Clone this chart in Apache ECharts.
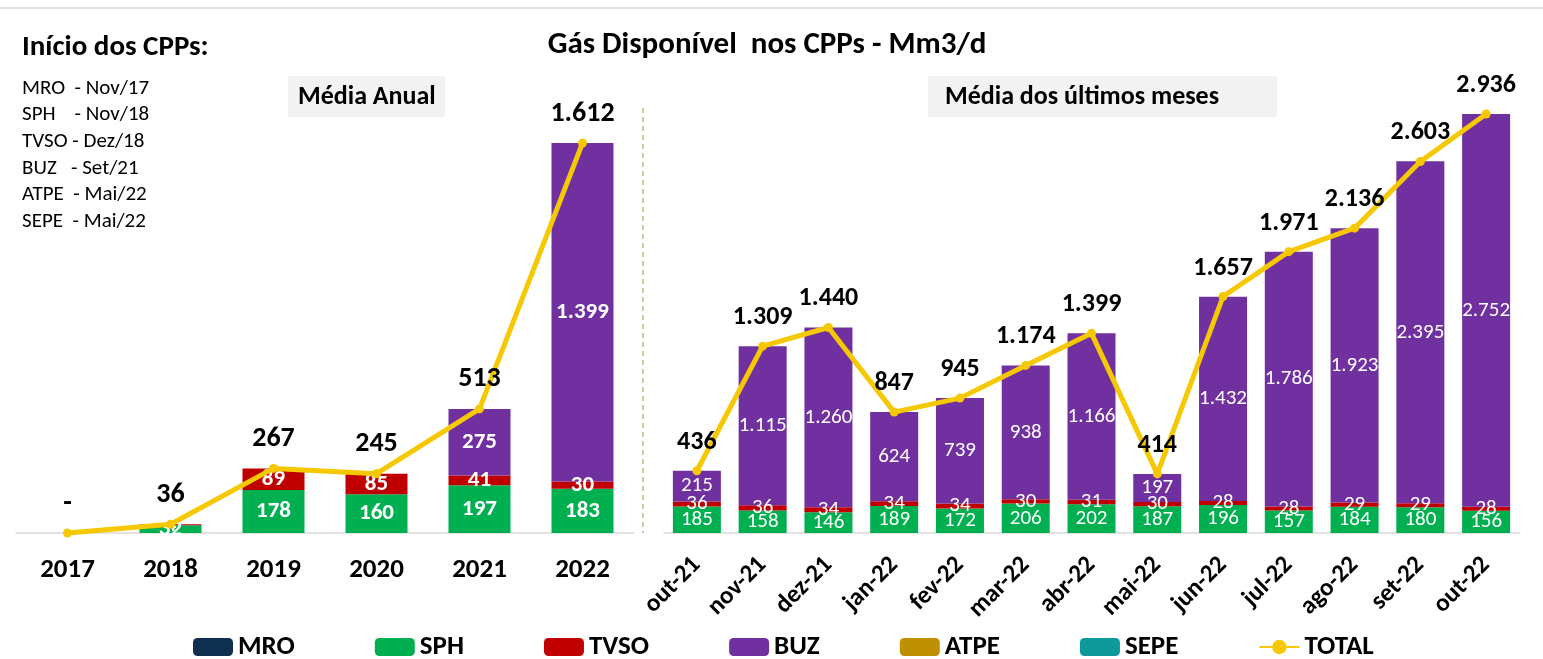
<!DOCTYPE html>
<html>
<head>
<meta charset="utf-8">
<script src="https://cdn.jsdelivr.net/npm/echarts@6/dist/echarts.min.js"></script>
<style>
  html, body { margin: 0; padding: 0; background: #fff; }
  #chart { width: 1543px; height: 659px; }
</style>
</head>
<body>
<div id="chart"></div>
<script>
// --- dados ---
const anos = ['2017', '2018', '2019', '2020', '2021', '2022']
const meses = ['out-21', 'nov-21', 'dez-21', 'jan-22', 'fev-22', 'mar-22', 'abr-22',
  'mai-22', 'jun-22', 'jul-22', 'ago-22', 'set-22', 'out-22']

const mroAnual = [0, 0, 0, 0, 0, 0]
const sphAnual = [0, 32, 178, 160, 197, 183]
const tvsoAnual = [0, 4, 89, 85, 41, 30]
const buzAnual = [0, 0, 0, 0, 275, 1399]
const atpeAnual = [0, 0, 0, 0, 0, 0]
const sepeAnual = [0, 0, 0, 0, 0, 0]
const totalAnual = [0, 36, 267, 245, 513, 1612]

const mroMes = [0, 0, 0, 0, 0, 0, 0, 0, 0, 0, 0, 0, 0]
const sphMes = [185, 158, 146, 189, 172, 206, 202, 187, 196, 157, 184, 180, 156]
const tvsoMes = [36, 36, 34, 34, 34, 30, 31, 30, 28, 28, 29, 29, 28]
const buzMes = [215, 1115, 1260, 624, 739, 938, 1166, 197, 1432, 1786, 1923, 2395, 2752]
const atpeMes = [0, 0, 0, 0, 0, 0, 0, 0, 0, 0, 0, 0, 0]
const sepeMes = [0, 0, 0, 0, 0, 0, 0, 0, 0, 0, 0, 0, 0]
const totalMes = [436, 1309, 1440, 847, 945, 1174, 1399, 414, 1657, 1971, 2136, 2603, 2936]

const inicioCPPs = [
  'MRO  - Nov/17',
  'SPH    - Nov/18',
  'TVSO - Dez/18',
  'BUZ   - Set/21',
  'ATPE  - Mai/22',
  'SEPE  - Mai/22',
]

const cores = {
  MRO: '#0E2F4F',
  SPH: '#00B050',
  TVSO: '#C00000',
  BUZ: '#7030A0',
  ATPE: '#BF9000',
  SEPE: '#0E9A9A',
  TOTAL: '#F5C800',
}

const FONT = 'Calibri, Carlito, "Liberation Sans", Arial, sans-serif'
const fmt = (v) => (v === 0 ? '-' : String(v).replace(/\B(?=(\d{3})+(?!\d))/g, '.'))

// --- series ---
const barra = (name, data, idx, labelSize) => ({
  name,
  type: 'bar',
  stack: idx === 0 ? 'anual' : 'mes',
  xAxisIndex: idx,
  yAxisIndex: idx,
  barWidth: idx === 0 ? 62 : 48,
  data,
  itemStyle: { color: cores[name] },
  label: {
    show: labelSize > 0,
    position: 'inside',
    color: '#fff',
    fontFamily: FONT,
    fontWeight: idx === 0 ? 'bold' : 'normal',
    fontSize: labelSize || 12,
    formatter: (p) => (p.value ? fmt(p.value) : ''),
  },
})

const linha = (data, idx) => ({
  name: 'TOTAL',
  type: 'line',
  xAxisIndex: idx,
  yAxisIndex: idx,
  data,
  z: 5,
  symbol: 'circle',
  symbolSize: 9,
  lineStyle: { color: cores.TOTAL, width: 5 },
  itemStyle: { color: cores.TOTAL },
  label: {
    show: true,
    position: 'top',
    distance: 11,
    color: '#000',
    fontFamily: FONT,
    fontWeight: 'bold',
    fontSize: idx === 0 ? 28 : 26,
    formatter: (p) => fmt(p.value),
  },
})

const series = [
  barra('MRO', mroAnual, 0, 0),
  barra('SPH', sphAnual, 0, 23),
  barra('TVSO', tvsoAnual, 0, 23),
  barra('BUZ', buzAnual, 0, 23),
  barra('ATPE', atpeAnual, 0, 0),
  barra('SEPE', sepeAnual, 0, 0),
  linha(totalAnual, 0),
  barra('MRO', mroMes, 1, 0),
  barra('SPH', sphMes, 1, 21),
  barra('TVSO', tvsoMes, 1, 21),
  barra('BUZ', buzMes, 1, 21),
  barra('ATPE', atpeMes, 1, 0),
  barra('SEPE', sepeMes, 1, 0),
  linha(totalMes, 1),
]

const eixoX = (data, idx) => ({
  type: 'category',
  gridIndex: idx,
  data,
  axisTick: { show: false },
  axisLine: { lineStyle: { color: '#D9D9D9', width: 1.5 } },
  axisLabel: idx === 0
    ? { color: '#000', fontFamily: FONT, fontWeight: 'bold', fontSize: 27, margin: 24, interval: 0 }
    : { color: '#000', fontFamily: FONT, fontWeight: 'bold', fontSize: 25, margin: 28, rotate: 45, interval: 0 },
})

const eixoY = (idx, max) => ({
  type: 'value',
  gridIndex: idx,
  min: 0,
  max,
  show: false,
  splitLine: { show: false },
})

const listaTextos = inicioCPPs.map((t, i) => ({
  type: 'text',
  left: 22,
  top: 78 + i * 26.6,
  style: { text: t, font: '21px ' + FONT, fill: '#000' },
}))

const options = {
  animation: false,
  backgroundColor: '#fff',
  title: {
    text: 'Gás Disponível  nos CPPs - Mm3/d',
    left: 762,
    textAlign: 'center',
    top: 25,
    textStyle: { fontFamily: FONT, fontSize: 31, fontWeight: 'bold', color: '#000' },
  },
  grid: [
    { left: 16, top: 97.6, width: 618, bottom: 126 },
    { left: 664, top: 62, width: 855, bottom: 126 },
  ],
  xAxis: [eixoX(anos, 0), eixoX(meses, 1)],
  yAxis: [eixoY(0, 1800), eixoY(1, 3300)],
  legend: {
    top: 633,
    left: 193,
    padding: 0,
    itemWidth: 40,
    itemHeight: 18,
    itemGap: 80,
    data: ['MRO', 'SPH', 'TVSO', 'BUZ', 'ATPE', 'SEPE', 'TOTAL'],
    textStyle: { fontFamily: FONT, fontWeight: 'bold', fontSize: 27, lineHeight: 28, color: '#000' },
  },
  graphic: [
    { type: 'line', shape: { x1: 0, y1: 8, x2: 1543, y2: 8 }, style: { stroke: '#D9D9D9', lineWidth: 1.5 } },
    {
      type: 'text', left: 22, top: 33,
      style: { text: 'Início dos CPPs:', font: 'bold 29px ' + FONT, fill: '#000' },
    },
    ...listaTextos,
    { type: 'rect', shape: { x: 288, y: 76, width: 157, height: 41 }, style: { fill: '#F2F2F2' } },
    {
      type: 'text', left: 298, top: 84,
      style: { text: 'Média Anual', font: 'bold 26px ' + FONT, fill: '#000' },
    },
    { type: 'rect', shape: { x: 928, y: 76, width: 349, height: 41 }, style: { fill: '#F2F2F2' } },
    {
      type: 'text', left: 945, top: 84,
      style: { text: 'Média dos últimos meses', font: 'bold 26px ' + FONT, fill: '#000' },
    },
    {
      type: 'line',
      shape: { x1: 643, y1: 108, x2: 643, y2: 533 },
      style: { stroke: '#70AD47', lineWidth: 1, lineDash: [5, 4] },
    },
  ],
  series,
}

const chart = echarts.init(document.getElementById('chart'))
chart.setOption(options)
window.addEventListener('resize', function () {
  chart && chart.resize()
})
</script>
</body>
</html>
